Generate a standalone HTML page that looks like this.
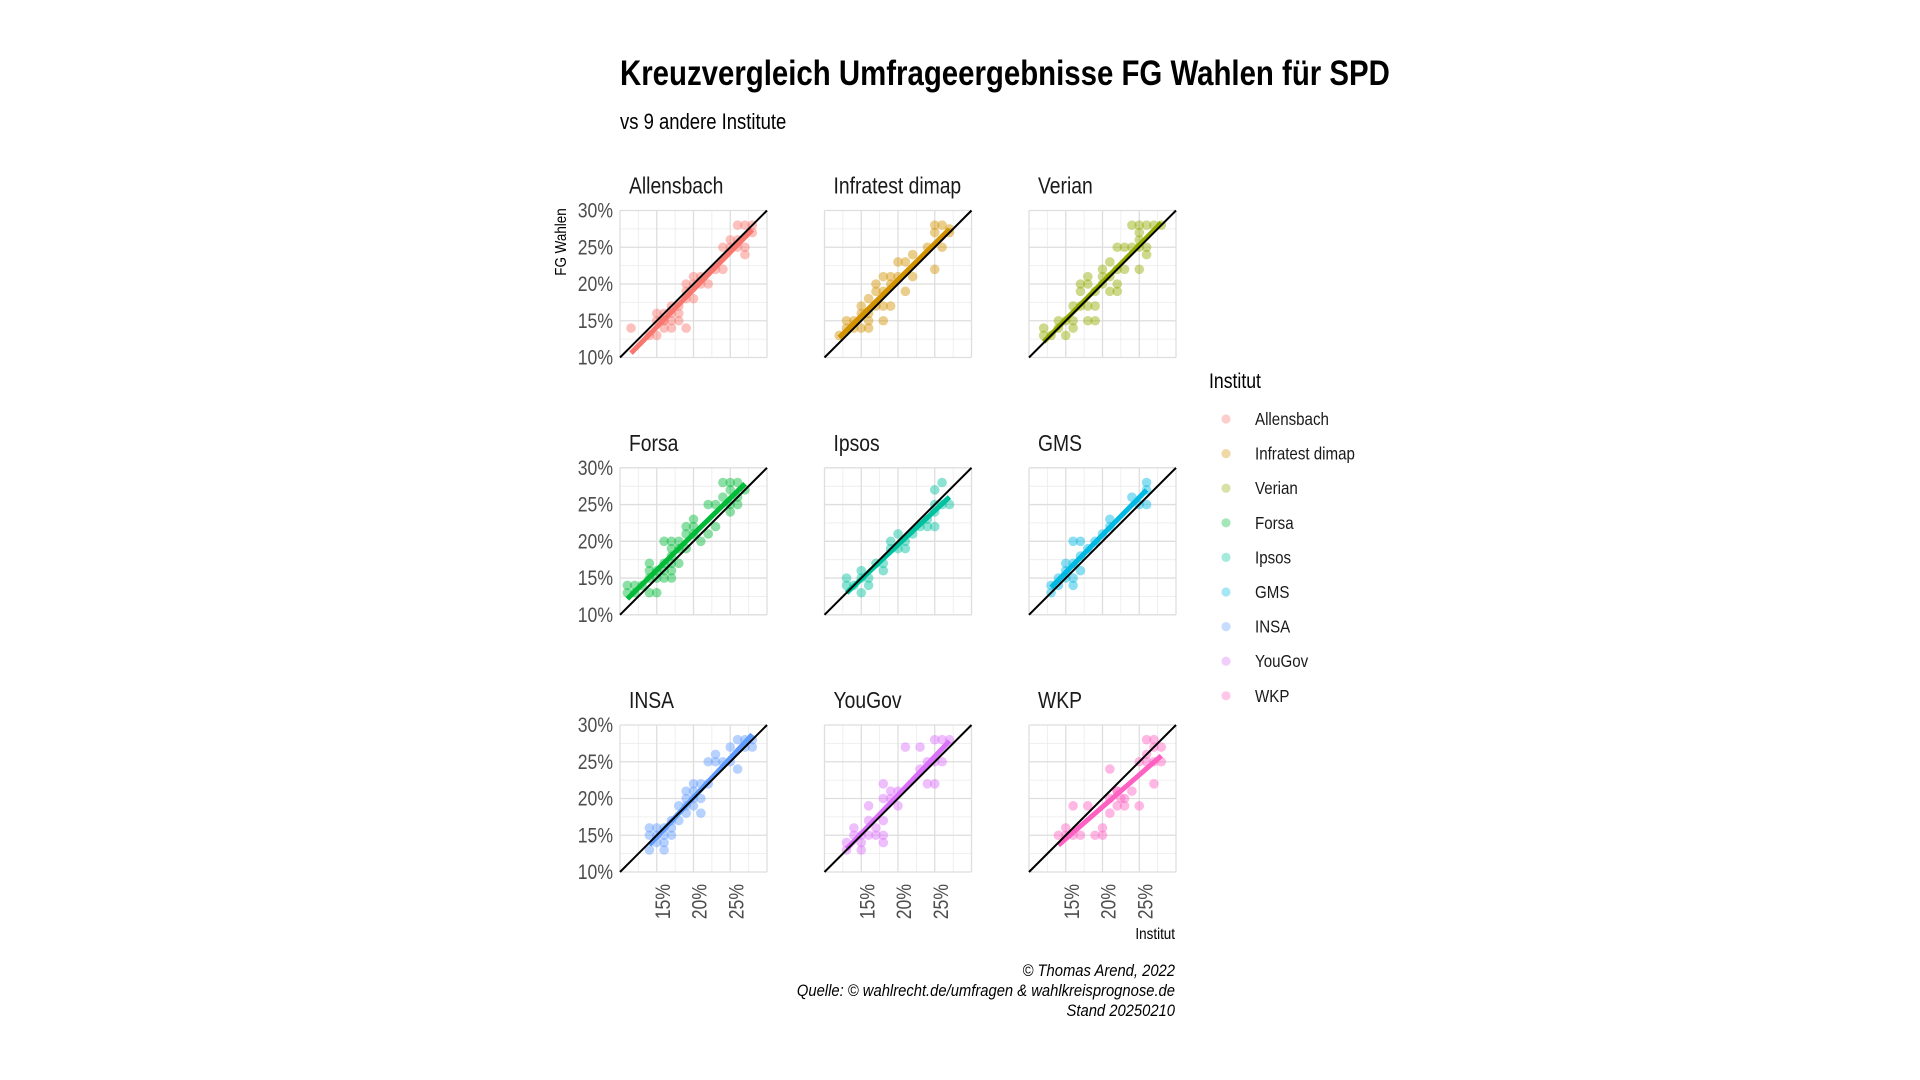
<!DOCTYPE html>
<html><head><meta charset="utf-8">
<style>
html,body{margin:0;padding:0;background:#fff;}
svg{display:block;font-family:"Liberation Sans",sans-serif;}
</style></head>
<body>
<svg id="chart" width="1920" height="1080" viewBox="0 0 1920 1080" xmlns="http://www.w3.org/2000/svg">
<rect width="1920" height="1080" fill="#fff"/>
<text transform="translate(620,85) scale(0.84,1)" font-size="35" font-weight="bold" fill="#000">Kreuzvergleich Umfrageergebnisse FG Wahlen für SPD</text>
<text transform="translate(620,129) scale(0.84,1)" font-size="22" fill="#000">vs 9 andere Institute</text>
<text transform="translate(566,242) rotate(-90) scale(0.84,1)" text-anchor="middle" font-size="16" fill="#000">FG Wahlen</text>
<text transform="translate(1175,939) scale(0.84,1)" text-anchor="end" font-size="16" fill="#000">Institut</text>
<g font-style="italic" font-size="17" fill="#000" text-anchor="end">
<text transform="translate(1175,976) scale(0.87,1)">© Thomas Arend, 2022</text>
<text transform="translate(1175,996) scale(0.87,1)">Quelle: © wahlrecht.de/umfragen &amp; wahlkreisprognose.de</text>
<text transform="translate(1175,1016) scale(0.87,1)">Stand 20250210</text>
</g>
<g id="panels"></g>
<g id="legend">
<text transform="translate(1209,388) scale(0.84,1)" font-size="21" fill="#000">Institut</text>
</g>
</svg>
<script>
const institutes = ["Allensbach","Infratest dimap","Verian","Forsa","Ipsos","GMS","INSA","YouGov","WKP"];
const colors = ["#F8766D","#D39200","#93AA00","#00BA38","#00C19F","#00B9E3","#619CFF","#DB72FB","#FF61C3"];
const yTicks = [10,15,20,25,30];
const yTickLabels = ["10%","15%","20%","25%","30%"];
const xTicks = [15,20,25];
const xTickLabels = ["15%","20%","25%"];
const gridMinor = [12.5,17.5,22.5,27.5];
const dataAllensbach = [[11.5,14],[14,13],[15,13],[15,16],[16,16],[15,15],[16,15],[16,14],[17,14],[17,15],[18,15],[16,15],[17,16],[19,14],[18,16],[17,17],[18,17],[19,18],[19,19],[20,18],[19,20],[20,20],[20,21],[21,21],[21,20],[22,20],[23,22],[24,22],[24,25],[25,26],[26,25],[26,28],[27,28],[28,28],[27,25],[27,24],[28,27],[26,26],[25,25]];
const dataInfratest = [[12,13],[13,14],[14,15],[15,16],[16,15],[16,14],[14,14],[15,14],[17,17],[17,19],[17,20],[18,21],[18,19],[18,17],[18,15],[19,20],[19,21],[20,23],[20,21],[21,23],[21,19],[22,24],[22,21],[24,25],[25,27],[25,22],[25,28],[26,28],[26,25],[27,27],[27,27.5],[19,17],[16,16],[13,15],[16,18],[15,17]];
const dataVerian = [[12,14],[12,13],[13,13],[14,15],[14,14],[15,15],[15,13],[16,15],[16,14],[16,17],[17,17],[17,19],[17,20],[18,20],[18,17],[18,15],[19,19],[19,15],[19,17],[20,21],[20,22],[21,21],[21,23],[21,19],[22,20],[22,19],[22,22],[23,22],[22,25],[23,25],[24,25],[25,26],[25,22],[26,25],[26,24],[25,27],[24,28],[25,28],[26,28],[27,28],[28,28],[25,25],[20,20],[18,21]];
const dataForsa = [[11,14],[11,13],[12,14],[12,13],[13,14],[14,13],[15,13],[14,15],[14,17],[14,16],[15,16],[15,15],[16,15],[16,17],[16,16],[17,16],[17,15],[17,17],[17,18],[17,19],[17,20],[16,20],[18,20],[18,19],[18,17],[19,19],[19,21],[19,22],[20,21],[20,23],[20,22],[21,20],[22,21],[23,22],[22,25],[23,25],[24,26],[25,24],[25,25],[26,25],[24,28],[25,28],[26,28],[25,27],[27,27],[26,26]];
const dataIpsos = [[13,15],[13,14],[14,14],[15,13],[15,16],[16,15],[16,14],[17,17],[18,16],[18,17],[19,20],[19,19],[20,21],[20,19],[21,19],[22,21],[23,22],[24,22],[25,22],[25,25],[26,25],[27,25],[25,27],[26,28],[25,24],[24,23],[21,20],[15,15]];
const dataGMS = [[13,13],[13,14],[14,14],[14,15],[15,16],[15,15],[16,15],[16,14],[16,17],[17,16],[16,20],[17,20],[17,18],[18,19],[19,20],[20,21],[21,22],[21,23],[24,26],[25,25],[26,25],[26,28],[26,27],[15,17]];
const dataINSA = [[14,13],[16,13],[14,16],[14,15],[15,16],[15,15],[15,14],[16,16],[16,15],[16,14],[17,15],[17,16],[17,17],[18,17],[18,19],[19,18],[19,19],[20,19],[20,20],[20,21],[19,21],[20,22],[21,22],[21,20],[21,18],[19,20],[22,22],[22,25],[23,26],[23,25],[24,25],[25,27],[26,28],[27,28],[28,28],[26,24],[25,25],[28,27],[27,27]];
const dataYouGov = [[13,13],[13,14],[14,15],[14,16],[15,14],[15,15],[15,13],[16,19],[16,17],[16,15],[17,16],[17,15],[18,15],[18,14],[18,17],[18,20],[19,21],[19,20],[20,19],[20,21],[18,22],[21,27],[23,27],[23,24],[24,25],[25,25],[26,25],[24,22],[25,22],[25,28],[26,28],[27,28]];
const dataWKP = [[14,15],[15,16],[15,15],[16,15],[17,15],[16,19],[18,19],[19,15],[20,16],[20,15],[21,20],[22,21],[22,19],[23,19],[23,20],[24,21],[25,19],[21,18],[21,24],[25,25],[26,25],[27,25],[28,25],[27,22],[26,28],[27,28],[27,27],[28,27],[26,26],[22,21],[22.5,20]];
const panelData = [dataAllensbach,dataInfratest,dataVerian,dataForsa,dataIpsos,dataGMS,dataINSA,dataYouGov,dataWKP];

const NS = "http://www.w3.org/2000/svg";
const colX = [620, 824.5, 1029];
const rowY = [210.5, 467.8, 725];
const PW = 147, PH = 147, DMIN = 10, DMAX = 30;
const SQ = 0.84;
function mk(tag, attrs, parent){ const e = document.createElementNS(NS, tag); for (const k in attrs) e.setAttribute(k, attrs[k]); parent.appendChild(e); return e; }
const root = document.getElementById('panels');

panelData.forEach((pts, i) => {
  const c = i % 3, r = Math.floor(i / 3);
  const x0 = colX[c], y0 = rowY[r];
  const sx = v => x0 + (v - DMIN) / (DMAX - DMIN) * PW;
  const sy = v => y0 + PH - (v - DMIN) / (DMAX - DMIN) * PH;
  const g = mk('g', {}, root);
  
  
  gridMinor.forEach(v => {
    const l1 = mk('line', {x1: sx(v), x2: sx(v), y1: y0, y2: y0+PH, stroke:'#ebebeb', 'stroke-width':0.8}, g);
    
    
    const l2 = mk('line', {x1: x0, x2: x0+PW, y1: sy(v), y2: sy(v), stroke:'#ebebeb', 'stroke-width':0.8}, g);
    
    
  });
  yTicks.forEach(v => {
    const l1 = mk('line', {x1: sx(v), x2: sx(v), y1: y0, y2: y0+PH, stroke:'#dedede', 'stroke-width':1.3}, g);
    
    
    const l2 = mk('line', {x1: x0, x2: x0+PW, y1: sy(v), y2: sy(v), stroke:'#dedede', 'stroke-width':1.3}, g);
    
    
  });
  const st = mk('text', {transform: 'translate(' + (x0 + 9) + ',' + (y0 - 17) + ') scale(' + SQ + ',1)', 'font-size': 23, fill: '#1a1a1a'}, g);
  
  
  st.textContent = institutes[i];
  if (c === 0) {
    yTicks.forEach((v, k) => {
      const t = mk('text', {transform: 'translate(' + (x0 - 7) + ',' + (sy(v) + 7) + ') scale(' + SQ + ',1)', 'text-anchor':'end', 'font-size': 21, fill:'#4d4d4d'}, g);
      
      
      t.textContent = yTickLabels[k];
    });
  }
  if (r === 2) {
    xTicks.forEach((v, k) => {
      const t = mk('text', {transform: 'translate(' + (sx(v) + 13) + ',' + (y0 + PH + 12) + ') rotate(-90) scale(' + SQ + ',1)', 'text-anchor':'end', 'font-size': 21, fill:'#4d4d4d'}, g);
      
      
      t.textContent = xTickLabels[k];
    });
  }
  pts.forEach(p => {
    const ci = mk('circle', {cx: sx(p[0]), cy: sy(p[1]), r: 4.8, fill: colors[i], 'fill-opacity': 0.45}, g);
    
    
  });
  const n = pts.length;
  let mx = 0, my = 0; pts.forEach(p => { mx += p[0]; my += p[1]; }); mx /= n; my /= n;
  let sxy = 0, sxx = 0; pts.forEach(p => { sxy += (p[0]-mx)*(p[1]-my); sxx += (p[0]-mx)*(p[0]-mx); });
  const b = sxy / sxx, a = my - b * mx;
  const xmin = Math.min(...pts.map(p => p[0])), xmax = Math.max(...pts.map(p => p[0]));
  const rl = mk('line', {x1: sx(xmin), y1: sy(a + b*xmin), x2: sx(xmax), y2: sy(a + b*xmax), stroke: colors[i], 'stroke-width': 5, 'stroke-linecap':'butt'}, g);
  
  
  const dl = mk('line', {x1: sx(DMIN), y1: sy(DMIN), x2: sx(DMAX), y2: sy(DMAX), stroke: '#000', 'stroke-width': 2}, g);
  
  
});

const lg = document.getElementById('legend');
institutes.forEach((name, i) => {
  const y = 419 + i * 34.6;
  const ci = mk('circle', {cx: 1226, cy: y, r: 4.6, fill: colors[i], 'fill-opacity': 0.35}, lg);
  
  
  const t = mk('text', {transform: 'translate(1255,' + (y + 6) + ') scale(' + SQ + ',1)', 'font-size': 18, fill: '#1a1a1a'}, lg);
  
  
  t.textContent = name;
});
</script>
</body></html>
